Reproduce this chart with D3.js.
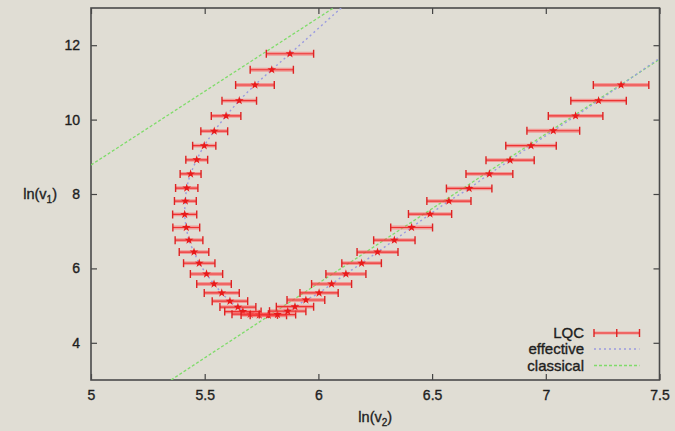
<!DOCTYPE html>
<html>
<head>
<meta charset="utf-8">
<script src="https://cdn.jsdelivr.net/npm/d3@7"></script>
<style>
  body { margin: 0; background: #e0ddd4; }
  svg { display: block; font-family: "Liberation Sans", Arial, sans-serif; }
  svg text { stroke: #222; stroke-width: 0.35px; }
</style>
</head>
<body>
<svg id="chart" width="675" height="431"></svg>
<script>
// LQC data points: ln(v2), ln(v1) and the horizontal error (half width)
const lqcV2 = [5.875, 5.795, 5.721, 5.652, 5.594, 5.542, 5.498, 5.465, 5.438, 5.421, 5.415, 5.412,
    5.419, 5.431, 5.453, 5.476, 5.508, 5.541, 5.575, 5.611, 5.646, 5.668,
    5.70, 5.74, 5.78, 5.82,
    5.865, 5.897, 5.945, 6.003, 6.058, 6.121, 6.19, 6.26, 6.334, 6.41, 6.491, 6.574,
    6.663, 6.752, 6.843, 6.935, 7.033, 7.131, 7.232, 7.331]
const lqcV1 = [11.77, 11.34, 10.93, 10.51, 10.10, 9.69, 9.30, 8.92, 8.54, 8.16, 7.81, 7.45,
    7.10, 6.76, 6.44, 6.14, 5.85, 5.58, 5.34, 5.12, 4.96, 4.84,
    4.77, 4.75, 4.74, 4.76,
    4.85, 4.97, 5.15, 5.34, 5.58, 5.85, 6.14, 6.44, 6.76, 7.10, 7.46, 7.81,
    8.15, 8.54, 8.91, 9.30, 9.70, 10.10, 10.51, 10.93]
const lqcErr = [0.104, 0.095, 0.085, 0.076, 0.065, 0.059, 0.051, 0.048, 0.046, 0.049, 0.048, 0.053,
    0.059, 0.061, 0.065, 0.069, 0.071, 0.076, 0.077, 0.078, 0.079, 0.08,
    0.08, 0.08, 0.08, 0.08,
    0.08, 0.082, 0.083, 0.084, 0.088, 0.088, 0.087, 0.09, 0.091, 0.092, 0.095, 0.097,
    0.1, 0.103, 0.106, 0.111, 0.116, 0.12, 0.122, 0.122]

// effective trajectory
const effV2 = [6.10, 5.875, 5.795, 5.721, 5.652, 5.594, 5.542, 5.498, 5.465, 5.438, 5.421, 5.415, 5.412,
    5.419, 5.431, 5.453, 5.476, 5.508, 5.541, 5.575, 5.611, 5.646, 5.69, 5.75, 5.81, 5.86,
    5.897, 5.945, 6.003, 6.058, 6.121, 6.19, 6.26, 6.334, 6.41, 6.491, 6.574,
    6.663, 6.752, 6.843, 6.935, 7.033, 7.131, 7.232, 7.331, 7.5]
const effV1 = [13.0, 11.77, 11.34, 10.93, 10.51, 10.10, 9.69, 9.30, 8.92, 8.54, 8.16, 7.81, 7.45,
    7.10, 6.76, 6.44, 6.14, 5.85, 5.58, 5.34, 5.12, 4.96, 4.80, 4.74, 4.76, 4.86,
    4.97, 5.15, 5.34, 5.58, 5.85, 6.14, 6.44, 6.76, 7.10, 7.46, 7.81,
    8.15, 8.54, 8.91, 9.30, 9.70, 10.10, 10.51, 10.93, 11.65]

// classical trajectories (two straight branches)
const classicalV2 = [[5.0, 6.066], [5.352, 7.5]]
const classicalV1 = [[8.78, 13.0], [3.0, 11.62]]

const xTicks = [5, 5.5, 6, 6.5, 7, 7.5]
const yTicks = [4, 6, 8, 10, 12]
const legendLabels = ['LQC', 'effective', 'classical']

const svg = d3.select('#chart')
const width = 675, height = 431
const margin = { top: 8, right: 15.5, bottom: 51, left: 91 }

const x = d3.scaleLinear().domain([5, 7.5]).range([margin.left, width - margin.right])
const y = d3.scaleLinear().domain([3, 13]).range([height - margin.bottom, margin.top])

svg.append('rect')
    .attr('width', width).attr('height', height)
    .attr('fill', '#e0ddd4')

svg.append('clipPath').attr('id', 'plot-clip')
    .append('rect')
    .attr('x', x(5)).attr('y', y(13))
    .attr('width', x(7.5) - x(5)).attr('height', y(3) - y(13))

const fmt = d => String(d)

// axes, ticks pointing inwards on every side
const axisStyle = g => {
    g.select('.domain').remove()
    g.selectAll('line').attr('stroke', '#444').attr('stroke-width', 1.2)
    g.selectAll('text').attr('fill', '#1c1c1c').style('font-size', '14px')
}
svg.append('g').attr('transform', `translate(0,${y(3)})`)
    .call(d3.axisBottom(x).tickValues(xTicks).tickFormat(fmt).tickSizeInner(-6).tickSizeOuter(0).tickPadding(10))
    .call(axisStyle)
svg.append('g').attr('transform', `translate(0,${y(13)})`)
    .call(d3.axisTop(x).tickValues(xTicks).tickFormat('').tickSizeInner(-6).tickSizeOuter(0))
    .call(axisStyle)
svg.append('g').attr('transform', `translate(${x(5)},0)`)
    .call(d3.axisLeft(y).tickValues(yTicks).tickFormat(fmt).tickSizeInner(-6).tickSizeOuter(0).tickPadding(11))
    .call(axisStyle)
svg.append('g').attr('transform', `translate(${x(7.5)},0)`)
    .call(d3.axisRight(y).tickValues(yTicks).tickFormat('').tickSizeInner(-6).tickSizeOuter(0))
    .call(axisStyle)

// frame
svg.append('rect')
    .attr('x', x(5)).attr('y', y(13))
    .attr('width', x(7.5) - x(5)).attr('height', y(3) - y(13))
    .attr('fill', 'none').attr('stroke', '#4a4a4a').attr('stroke-width', 1.6)

const plot = svg.append('g').attr('clip-path', 'url(#plot-clip)')
const line = d3.line().x(d => x(d[0])).y(d => y(d[1]))

// classical
classicalV2.forEach((xs, i) => {
    plot.append('path')
        .datum(xs.map((v, j) => [v, classicalV1[i][j]]))
        .attr('d', line)
        .attr('fill', 'none')
        .attr('stroke', '#7fdc6a')
        .attr('stroke-width', 1.3)
        .attr('stroke-dasharray', '3,2')
})

// effective
plot.append('path')
    .datum(effV2.map((v, i) => [v, effV1[i]]))
    .attr('d', line.curve(d3.curveCatmullRom))
    .attr('fill', 'none')
    .attr('stroke', '#9a9be0')
    .attr('stroke-width', 1.4)
    .attr('stroke-dasharray', '2,3')

// LQC error bars
const lqc = lqcV2.map((v, i) => ({ v2: v, v1: lqcV1[i], err: lqcErr[i] }))
const bars = plot.selectAll('g.bar').data(lqc).enter().append('g').attr('class', 'bar')
bars.append('line')
    .attr('x1', d => x(d.v2 - d.err)).attr('x2', d => x(d.v2 + d.err))
    .attr('y1', d => y(d.v1)).attr('y2', d => y(d.v1))
    .attr('stroke', 'rgba(255,90,90,0.5)').attr('stroke-width', 3.8)
bars.append('line')
    .attr('x1', d => x(d.v2 - d.err)).attr('x2', d => x(d.v2 + d.err))
    .attr('y1', d => y(d.v1)).attr('y2', d => y(d.v1))
    .attr('stroke', '#ee3333').attr('stroke-width', 1.2)
bars.selectAll('line.cap')
    .data(d => [[d.v2 - d.err, d.v1], [d.v2 + d.err, d.v1]])
    .enter().append('line').attr('class', 'cap')
    .attr('x1', d => x(d[0])).attr('x2', d => x(d[0]))
    .attr('y1', d => y(d[1]) - 4).attr('y2', d => y(d[1]) + 4)
    .attr('stroke', '#dd2222').attr('stroke-width', 1.4)
bars.append('path')
    .attr('transform', d => `translate(${x(d.v2)},${y(d.v1)})`)
    .attr('d', d3.symbol(d3.symbolStar, 24))
    .attr('fill', '#e81a1a')

// axis labels
const yl = svg.append('text').attr('x', 57).attr('y', y(8) + 5)
    .attr('text-anchor', 'end').attr('fill', '#1c1c1c').style('font-size', '14.5px')
yl.append('tspan').text('ln(v')
yl.append('tspan').attr('dy', 4).style('font-size', '10px').text('1')
yl.append('tspan').attr('dy', -4).text(')')

const xl = svg.append('text').attr('x', (x(5) + x(7.5)) / 2).attr('y', 422)
    .attr('text-anchor', 'middle').attr('fill', '#1c1c1c').style('font-size', '14.5px')
xl.append('tspan').text('ln(v')
xl.append('tspan').attr('dy', 4).style('font-size', '10px').text('2')
xl.append('tspan').attr('dy', -4).text(')')

// legend
const legendY = [333, 349, 365.5]
const lx0 = 594, lx1 = 639.5
legendLabels.forEach((label, i) => {
    svg.append('text').attr('x', 584).attr('y', legendY[i]).attr('dy', '0.36em')
        .attr('text-anchor', 'end').attr('fill', '#1c1c1c').style('font-size', '15px')
        .text(label)
})
svg.append('line').attr('x1', lx0).attr('x2', lx1).attr('y1', legendY[0]).attr('y2', legendY[0])
    .attr('stroke', 'rgba(255,90,90,0.5)').attr('stroke-width', 3)
svg.append('line').attr('x1', lx0).attr('x2', lx1).attr('y1', legendY[0]).attr('y2', legendY[0])
    .attr('stroke', '#ee3333').attr('stroke-width', 1.2)
;[lx0, (lx0 + lx1) / 2, lx1].forEach(cx => {
    svg.append('line').attr('x1', cx).attr('x2', cx).attr('y1', legendY[0] - 4).attr('y2', legendY[0] + 4)
        .attr('stroke', '#dd2222').attr('stroke-width', 1.4)
})
svg.append('line').attr('x1', lx0).attr('x2', lx1).attr('y1', legendY[1]).attr('y2', legendY[1])
    .attr('stroke', '#9a9be0').attr('stroke-width', 1.4).attr('stroke-dasharray', '2,3')
svg.append('line').attr('x1', lx0).attr('x2', lx1).attr('y1', legendY[2]).attr('y2', legendY[2])
    .attr('stroke', '#7fdc6a').attr('stroke-width', 1.3).attr('stroke-dasharray', '3,2')
</script>
</body>
</html>
